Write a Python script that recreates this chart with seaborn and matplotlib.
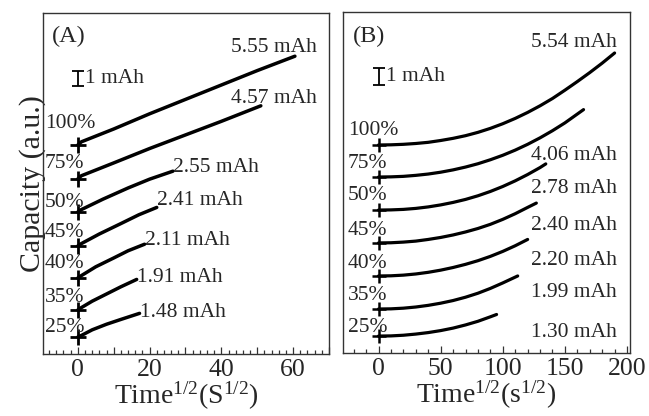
import numpy as np
import pandas as pd
import matplotlib
matplotlib.use("Agg")
import matplotlib.pyplot as plt
from matplotlib.ticker import MultipleLocator, FuncFormatter
import seaborn as sns

# ---------------- data ----------------
levels = ["100%", "75%", "50%", "45%", "40%", "35%", "25%"]

# Panel A (x = time^1/2 in S^1/2, rise in mAh above each curve's baseline)
a_capacity = [5.55, 4.57, 2.55, 2.41, 2.11, 1.91, 1.48]
a_offset = [13.06, 10.94, 8.875, 6.75, 4.75, 2.75, 1.06]
a_time = [
    [0, 1, 10, 20, 30, 40, 50, 60.5],
    [0, 1, 10, 20, 30, 40, 51],
    [0, 1, 7, 14, 20, 26.5],
    [0, 1, 6, 12, 17, 22],
    [0, 1, 5, 10, 14, 18.6],
    [0, 1, 4, 8, 12, 16.4],
    [0, 1, 4, 8, 12, 17.2],
]
a_rise = [
    [0, 0.2, 1.0, 1.95, 2.85, 3.75, 4.65, 5.55],
    [0, 0.2, 1.0, 1.9, 2.75, 3.6, 4.57],
    [0, 0.15, 0.8, 1.5, 2.05, 2.55],
    [0, 0.15, 0.75, 1.4, 1.95, 2.41],
    [0, 0.15, 0.7, 1.25, 1.7, 2.11],
    [0, 0.15, 0.55, 1.0, 1.45, 1.91],
    [0, 0.1, 0.45, 0.8, 1.1, 1.48],
]

# Panel B (x = time^1/2 in s^1/2)
b_capacity = [5.54, 4.06, 2.78, 2.40, 2.20, 1.99, 1.30]
b_offset = [12.53, 10.60, 8.61, 6.63, 4.64, 2.65, 1.02]
b_time = [
    [0, 10, 20, 30, 40, 50, 60, 70, 80, 90, 100, 110, 120, 130, 140, 150, 160, 170, 180, 190],
    [0, 10, 20, 30, 40, 50, 60, 70, 80, 90, 100, 110, 120, 130, 140, 150, 165],
    [0, 10, 20, 30, 40, 50, 60, 70, 80, 90, 100, 110, 120, 130, 134.6],
    [0, 10, 20, 30, 40, 50, 60, 70, 80, 90, 100, 110, 120, 127],
    [0, 10, 20, 30, 40, 50, 60, 70, 80, 90, 100, 110, 120],
    [0, 10, 20, 30, 40, 50, 60, 70, 80, 90, 100, 110, 112],
    [0, 10, 20, 30, 40, 50, 60, 70, 80, 90, 95],
]
b_rise = [
    [0, 0.01, 0.04, 0.09, 0.16, 0.27, 0.40, 0.56, 0.76, 1.00, 1.28, 1.60, 1.96, 2.36, 2.80,
     3.30, 3.82, 4.36, 4.93, 5.54],
    [0, 0.01, 0.04, 0.10, 0.18, 0.29, 0.43, 0.60, 0.80, 1.04, 1.31, 1.62, 1.97, 2.36, 2.79,
     3.26, 4.06],
    [0, 0.01, 0.04, 0.10, 0.19, 0.31, 0.46, 0.64, 0.86, 1.12, 1.42, 1.76, 2.14, 2.56, 2.78],
    [0, 0.01, 0.05, 0.11, 0.21, 0.33, 0.48, 0.66, 0.87, 1.12, 1.42, 1.76, 2.14, 2.40],
    [0, 0.01, 0.05, 0.12, 0.22, 0.35, 0.51, 0.70, 0.92, 1.18, 1.48, 1.82, 2.20],
    [0, 0.01, 0.05, 0.12, 0.22, 0.35, 0.51, 0.71, 0.95, 1.24, 1.57, 1.92, 1.99],
    [0, 0.01, 0.05, 0.12, 0.21, 0.33, 0.48, 0.67, 0.89, 1.16, 1.30],
]

# ---------------- layout (label positions, not data) ----------------
a_pct_y = [14.125, 11.625, 9.19, 7.31, 5.375, 3.25, 1.375]
a_val_pos = [(66.6, 18.875, "right"), (66.6, 15.69, "right"), (26.5, 11.375, "left"),
             (22.0, 9.31, "left"), (18.6, 6.81, "left"), (16.4, 4.5, "left"),
             (17.2, 2.31, "left")]
b_pct_y = [13.13, 11.14, 9.22, 7.11, 5.12, 3.19, 1.27]
b_val_pos = [(192, 18.43), (192, 11.63), (192, 9.64), (192, 7.41),
             (192, 5.30), (192, 3.37), (192, 0.96)]

# ---------------- style ----------------
sns.set_style("white")
plt.rcParams["font.family"] = ["Liberation Serif", "DejaVu Serif"]
plt.rcParams["mathtext.fontset"] = "custom"
plt.rcParams["mathtext.rm"] = "Liberation Serif"
plt.rcParams["mathtext.it"] = "Liberation Serif:italic"
plt.rcParams["mathtext.bf"] = "Liberation Serif:bold"

FRAME = "#333333"
TXT = 15.5


def long_df(times, rises, offsets):
    rows = []
    for lev, t, r, off in zip(levels, times, rises, offsets):
        for ti, ri in zip(t, r):
            rows.append({"level": lev, "t": ti, "cap": off + ri})
    return pd.DataFrame(rows)


fig = plt.figure(figsize=(6.49, 4.16), dpi=100)
axA = fig.add_axes([43 / 649, 62 / 416, 286 / 649, 341 / 416])
axB = fig.add_axes([343 / 649, 63 / 416, 287 / 649, 341 / 416])


def style_axes(ax, major, minor, labelstep, xlim, ylim):
    ax.set_xlim(*xlim)
    ax.set_ylim(*ylim)
    for s in ax.spines.values():
        s.set_visible(True)
        s.set_color(FRAME)
        s.set_linewidth(1.0)
    ax.xaxis.set_major_locator(MultipleLocator(major))
    ax.xaxis.set_minor_locator(MultipleLocator(minor))
    ax.xaxis.set_major_formatter(
        FuncFormatter(lambda v, p: f"{v:.0f}" if abs(v / labelstep - round(v / labelstep)) < 1e-6 else ""))
    ax.tick_params(axis="x", which="both", direction="in", bottom=True, top=False,
                   color=FRAME, width=0.9)
    ax.tick_params(axis="x", which="major", length=5, pad=3.5, labelsize=18.5)
    ax.tick_params(axis="x", which="minor", length=3)
    ax.set_yticks([])
    ax.grid(False)


# ---- Panel A ----
dfA = long_df(a_time, a_rise, a_offset)
sns.lineplot(data=dfA, x="t", y="cap", units="level", estimator=None, sort=False,
             color="black", lw=2.5, ax=axA, legend=False)
axA.plot(np.zeros(len(levels)), a_offset, "+", ms=12, mew=2, color="black")
style_axes(axA, 10, 2, 20, (-9.7, 70), (0, 21.31))
for lev, y in zip(levels, a_pct_y):
    axA.text(-9.2, y, lev, fontsize=TXT, ha="left", va="baseline")
for cap, (x, y, ha) in zip(a_capacity, a_val_pos):
    axA.text(x, y, f"{cap:.2f} mAh", fontsize=TXT, ha=ha, va="baseline")
axA.errorbar(0, 17.22, yerr=0.47, color="black", lw=1.3, capsize=4.3, capthick=1.3)
axA.text(1.9, 17.22, "1 mAh", fontsize=TXT, ha="left", va="center")
axA.text(0.031, 0.962, "(A)", transform=axA.transAxes, fontsize=17.5, ha="left", va="top")
axA.set_xlabel(r"Time$^{\mathrm{1/2}}$(S$^{\mathrm{1/2}}$)", fontsize=20, labelpad=-1)
axA.set_ylabel("Capacity (a.u.)", fontsize=21.5)
axA.yaxis.set_label_coords(0.01, 0.5)

# ---- Panel B ----
dfB = long_df(b_time, b_rise, b_offset)
sns.lineplot(data=dfB, x="t", y="cap", units="level", estimator=None, sort=False,
             color="black", lw=2.3, ax=axB, legend=False)
for ln in axB.lines:
    ln.set_solid_joinstyle("round")
axB.plot(np.zeros(len(levels)), b_offset, "+", ms=9.5, mew=1.8, color="black")
style_axes(axB, 50, 10, 50, (-28.6, 202.4), (0, 20.54))
for lev, y in zip(levels, b_pct_y):
    axB.text(-24.8, y, lev, fontsize=TXT, ha="left", va="baseline")
for cap, (x, y) in zip(b_capacity, b_val_pos):
    axB.text(x, y, f"{cap:.2f} mAh", fontsize=TXT, ha="right", va="baseline")
axB.errorbar(0, 16.66, yerr=0.5, color="black", lw=1.3, capsize=4.6, capthick=1.3)
axB.text(6.4, 16.66, "1 mAh", fontsize=TXT, ha="left", va="center")
axB.text(0.035, 0.959, "(B)", transform=axB.transAxes, fontsize=17.5, ha="left", va="top")
axB.set_xlabel(r"Time$^{\mathrm{1/2}}$(s$^{\mathrm{1/2}}$)", fontsize=20, labelpad=-1)
axB.set_ylabel("")

fig.savefig("out.png", dpi=100)
